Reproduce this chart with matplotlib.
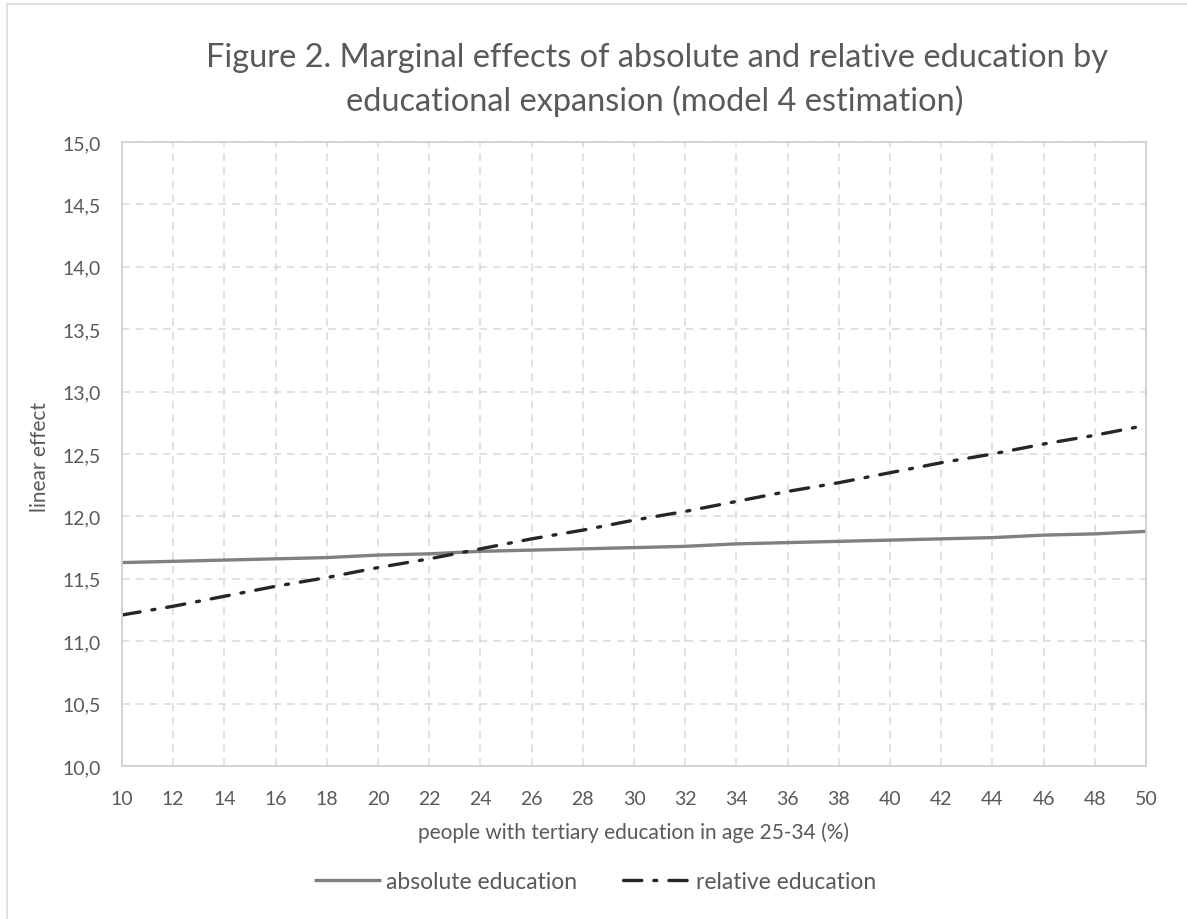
import matplotlib
matplotlib.use("Agg")
import matplotlib.pyplot as plt
from matplotlib.patches import Rectangle
from matplotlib.ticker import FuncFormatter, MultipleLocator

x_values = [10, 12, 14, 16, 18, 20, 22, 24, 26, 28, 30, 32, 34, 36, 38, 40, 42, 44, 46, 48, 50]
absolute_education = [11.63, 11.64, 11.65, 11.66, 11.67, 11.69, 11.70, 11.72, 11.73, 11.74, 11.75,
                      11.76, 11.78, 11.79, 11.80, 11.81, 11.82, 11.83, 11.85, 11.86, 11.88]
relative_education = [11.21, 11.28, 11.36, 11.44, 11.51, 11.59, 11.66, 11.74, 11.82, 11.89, 11.97,
                      12.04, 12.12, 12.20, 12.27, 12.35, 12.43, 12.50, 12.58, 12.65, 12.73]
series_labels = ["absolute education", "relative education"]
title_lines = ["Figure 2. Marginal effects of absolute and relative education by",
               "educational expansion (model 4 estimation)"]
x_label = "people with tertiary education in age 25-34 (%)"
y_label = "linear effect"

plt.rcParams['font.family'] = ['Lato', 'DejaVu Sans']
TXT = '#595959'
GRID = '#d9d9d9'

W, H = 1187, 920
fig = plt.figure(figsize=(W / 100, H / 100), dpi=100)
fig.patch.set_facecolor('white')

# outer chart border
fig.patches.append(Rectangle((7 / W, -0.05), 1.2, 1 - 5 / H + 0.05, transform=fig.transFigure,
                             fill=False, edgecolor=GRID, linewidth=1.1))

ax = fig.add_axes([122 / W, 1 - 767 / H, (1146 - 122) / W, (767 - 143) / H])
ax.plot(x_values, absolute_education, color='#808080', linewidth=2.4, label=series_labels[0],
        solid_capstyle='butt')
ax.plot(x_values, relative_education, color='#262626', linewidth=2.4, label=series_labels[1],
        dashes=(5.5, 3.6, 0.9, 3.6), dash_capstyle='round')

ax.set_xlim(10, 50)
ax.set_ylim(10, 15)
ax.xaxis.set_major_locator(MultipleLocator(2))
ax.yaxis.set_major_locator(MultipleLocator(0.5))
ax.yaxis.set_major_formatter(FuncFormatter(lambda v, p: f"{v:.1f}".replace('.', ',')))
ax.tick_params(axis='both', length=0, labelsize=14, colors=TXT)
ax.tick_params(axis='y', pad=15)
ax.tick_params(axis='x', pad=17)
ax.grid(True, color=GRID, linewidth=1.1, linestyle=(0, (5, 4)))
ax.set_axisbelow(True)
for s in ax.spines.values():
    s.set_color('#d0d0d0')
    s.set_linewidth(1.3)

fig.text(657 / W, 1 - 58 / H, title_lines[0], ha='center', va='center', fontsize=23.4, color=TXT)
fig.text(655 / W, 1 - 101 / H, title_lines[1], ha='center', va='center', fontsize=23.4, color=TXT)
fig.text(634 / W, 1 - 833 / H, x_label, ha='center', va='center', fontsize=15, color=TXT)
fig.text(40 / W, 1 - 457 / H, y_label, ha='center', va='center', fontsize=15, color=TXT, rotation=90)

leg = fig.legend(loc='center', bbox_to_anchor=(595 / W, 1 - 883 / H), ncol=2, frameon=False,
                 fontsize=16.5, handlelength=2.9, handletextpad=0.25, columnspacing=2.0)
for t in leg.get_texts():
    t.set_color(TXT)

fig.savefig('out.png', dpi=100, facecolor='white')
